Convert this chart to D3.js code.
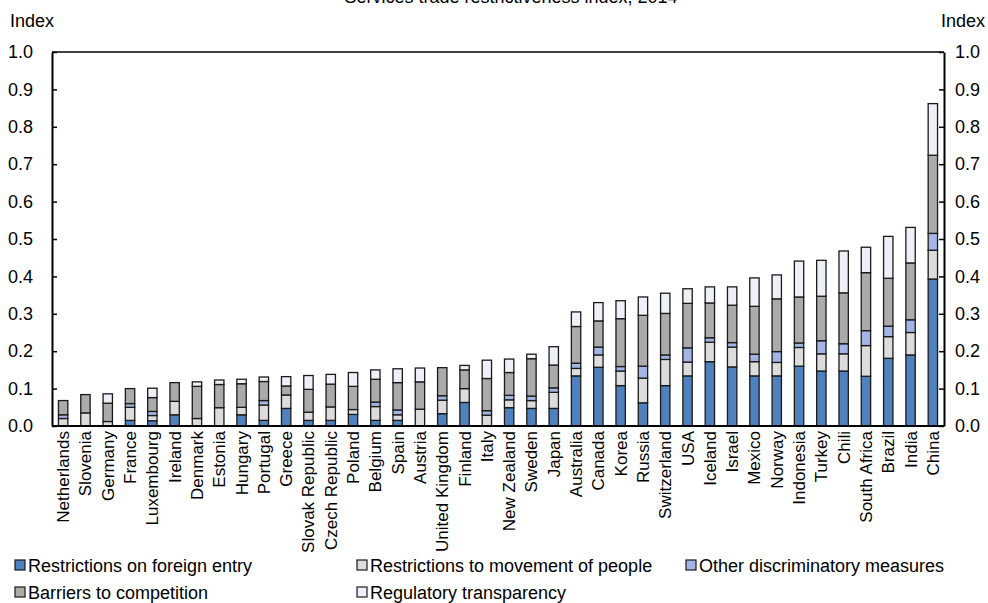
<!DOCTYPE html>
<html>
<head>
<meta charset="utf-8">
<script src="https://cdn.jsdelivr.net/npm/d3@7"></script>
<style>
  html, body { margin: 0; padding: 0; background: #fff; }
  svg { display: block; font-family: "Liberation Sans", Arial, sans-serif; }
</style>
</head>
<body>
<svg id="chart" width="988" height="603"></svg>
<script>
const title = "Services trade restrictiveness index, 2014";
const countries = ["Netherlands","Slovenia","Germany","France","Luxembourg","Ireland","Denmark","Estonia","Hungary","Portugal","Greece","Slovak Republic","Czech Republic","Poland","Belgium","Spain","Austria","United Kingdom","Finland","Italy","New Zealand","Sweden","Japan","Australia","Canada","Korea","Russia","Switzerland","USA","Iceland","Israel","Mexico","Norway","Indonesia","Turkey","Chili","South Africa","Brazil","India","China"];
const foreignEntry = [0,0,0,0.015,0.014,0.030,0,0,0.030,0.015,0.047,0.015,0.015,0.031,0.015,0.015,0,0.033,0.063,0,0.049,0.047,0.047,0.134,0.157,0.108,0.062,0.108,0.134,0.172,0.158,0.134,0.134,0.160,0.147,0.147,0.133,0.181,0.190,0.393];
const movementPeople = [0.020,0.035,0.012,0.035,0.014,0.036,0.020,0.049,0.020,0.041,0.036,0.022,0.036,0.013,0.037,0.015,0.045,0.036,0.037,0.029,0.021,0.021,0.043,0.020,0.033,0.039,0.066,0.070,0.037,0.052,0.053,0.038,0.036,0.050,0.046,0.046,0.082,0.058,0.060,0.077];
const otherDiscrim = [0.010,0,0,0.010,0.011,0,0,0,0,0.012,0,0,0,0,0.012,0.013,0,0.012,0,0.012,0.012,0.012,0.012,0.014,0.021,0.012,0.032,0.012,0.038,0.012,0.012,0.020,0.029,0.012,0.035,0.027,0.040,0.028,0.034,0.045];
const barriersCompetition = [0.038,0.049,0.049,0.040,0.037,0.050,0.086,0.062,0.063,0.051,0.024,0.061,0.061,0.062,0.061,0.073,0.073,0.075,0.050,0.086,0.061,0.100,0.061,0.098,0.070,0.128,0.136,0.111,0.119,0.093,0.100,0.128,0.141,0.123,0.119,0.136,0.155,0.128,0.152,0.209];
const regTransparency = [0,0,0.025,0,0.025,0,0.012,0.012,0.012,0.012,0.025,0.037,0.026,0.037,0.025,0.037,0.037,0,0.012,0.049,0.036,0.012,0.049,0.039,0.049,0.048,0.049,0.054,0.039,0.043,0.049,0.076,0.064,0.096,0.096,0.112,0.068,0.112,0.095,0.138];
const seriesNames = ["Restrictions on foreign entry","Restrictions to movement of people","Other discriminatory measures","Barriers to competition","Regulatory transparency"];
const seriesColors = ["#4f81bd","#dcdcdc","#a3b5e4","#ababab","#eef0f8"];
const yTicks = [0,0.1,0.2,0.3,0.4,0.5,0.6,0.7,0.8,0.9,1.0];

(function () {
  const seriesArrays = [foreignEntry, movementPeople, otherDiscrim, barriersCompetition, regTransparency];
  const keys = ["entry","movement","other","barriers","transparency"];
  const table = countries.map((c,i) => {
    const row = {country: c};
    keys.forEach((k,j) => row[k] = seriesArrays[j][i]);
    return row;
  });

  const svg = d3.select("#chart");
  const mLeft = 52, mRight = 944, mTop = 52, mBottom = 426;
  const x = d3.scaleBand().domain(countries).range([mLeft, mRight]).paddingInner(0.58).paddingOuter(0.29);
  const y = d3.scaleLinear().domain([0, 1]).range([mBottom, mTop]);

  svg.append("text").attr("x", 511).attr("y", 3).attr("text-anchor", "middle")
    .attr("font-size", 18).attr("fill", "#000").text(title);

  svg.append("line").attr("x1", mLeft).attr("x2", mRight).attr("y1", mTop).attr("y2", mTop)
    .attr("stroke", "#000").attr("stroke-width", 1.5);

  const stack = d3.stack().keys(keys)(table);
  const g = svg.append("g");
  stack.forEach((layer, li) => {
    g.selectAll(null).data(layer.filter(d => d[1] - d[0] > 0.0001)).enter().append("rect")
      .attr("x", d => x(d.data.country))
      .attr("width", x.bandwidth())
      .attr("y", d => y(d[1]))
      .attr("height", d => y(d[0]) - y(d[1]))
      .attr("fill", seriesColors[li])
      .attr("stroke", "#1a1a1a")
      .attr("stroke-width", 1.3);
  });

  const fmt = d3.format(".1f");
  const la = svg.append("g").attr("transform", `translate(${mLeft},0)`)
    .call(d3.axisLeft(y).tickValues(yTicks).tickFormat(fmt).tickSizeInner(-5).tickSizeOuter(0).tickPadding(19));
  const ra = svg.append("g").attr("transform", `translate(${mRight},0)`)
    .call(d3.axisRight(y).tickValues(yTicks).tickFormat(fmt).tickSizeInner(-5).tickSizeOuter(0).tickPadding(11));
  [la, ra].forEach(a => {
    a.selectAll("path").attr("stroke", "#000").attr("stroke-width", 2);
    a.selectAll("line").attr("stroke", "#000").attr("stroke-width", 1.5);
    a.selectAll("text").attr("font-size", 18).attr("fill", "#000").attr("font-family", "Liberation Sans, Arial, sans-serif");
  });

  svg.append("line").attr("x1", mLeft).attr("x2", mRight).attr("y1", y(0)).attr("y2", y(0))
    .attr("stroke", "#000").attr("stroke-width", 2);

  svg.append("g").selectAll("text").data(countries).enter().append("text")
    .attr("transform", d => `translate(${x(d) + x.bandwidth()/2},431) rotate(-90)`)
    .attr("text-anchor", "end").attr("dy", "0.35em")
    .attr("font-size", 17).attr("fill", "#000").text(d => d);

  svg.append("text").attr("x", 10).attr("y", 27).attr("font-size", 18).text("Index");
  svg.append("text").attr("x", 985).attr("y", 27).attr("text-anchor", "end").attr("font-size", 18).text("Index");

  const legendPos = [[15,566],[357,566],[686,566],[15,593],[357,593]];
  seriesNames.forEach((name, i) => {
    const [lx, ly] = legendPos[i];
    svg.append("rect").attr("x", lx).attr("y", ly - 6).attr("width", 10).attr("height", 10)
      .attr("fill", seriesColors[i]).attr("stroke", "#1a1a1a").attr("stroke-width", 1.2);
    svg.append("text").attr("x", lx + 13).attr("y", ly).attr("dy", "0.35em")
      .attr("font-size", 18).attr("fill", "#000").text(name);
  });
})();
</script>
</body>
</html>
